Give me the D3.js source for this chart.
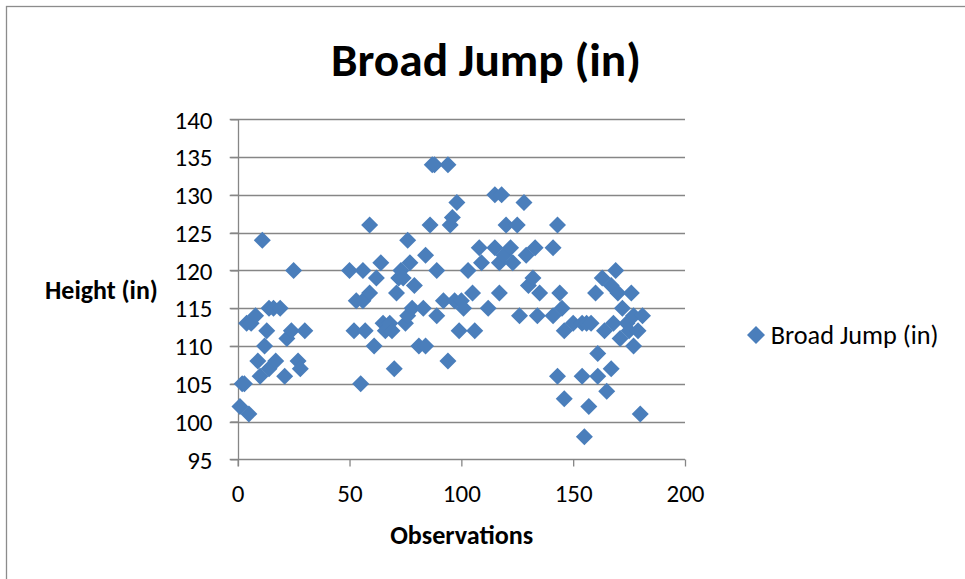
<!DOCTYPE html>
<html>
<head>
<meta charset="utf-8">
<script src="https://cdn.jsdelivr.net/npm/d3@7"></script>
<style>
  html, body { margin: 0; padding: 0; background: #fff; }
  svg { display: block; }
  text { font-family: Carlito, Calibri, Lato, "Open Sans", sans-serif; fill: #000; }
</style>
</head>
<body>
<svg id="chart" width="965" height="579"></svg>
<script>
// Observation number for each jump
const observations = [
  1, 2, 3, 5, 4, 6, 8, 9, 10, 11, 12, 13, 14, 14, 16, 17, 19, 21, 22, 24, 25, 27, 28, 30,
  50, 52, 53, 55, 56, 56, 57, 59, 59, 61, 62, 64, 65, 66, 68, 69, 70, 71, 72, 73, 75, 74,
  76, 76, 77, 78, 79, 81, 83, 84, 84, 86, 87, 88, 89, 89, 92, 94, 94, 95, 96, 98, 97, 99,
  100, 101, 103, 105, 106, 108, 109, 112, 115, 115, 117, 117, 118, 119, 120, 122, 123, 125,
  126, 128, 129, 130, 132, 133, 134, 135, 141, 141, 143, 143, 144, 145, 146, 146,
  150, 154, 154, 156, 155, 157, 158, 160, 161, 161, 163, 164, 165, 167, 167, 168, 169, 170,
  171, 172, 174, 175, 176, 177, 177, 179, 180, 181
];
// Broad jump distance (in) for each observation
const heights = [
  102, 105, 105, 101, 113, 113, 114, 108, 106, 124, 110, 112, 107, 115, 115, 108, 115, 106, 111, 112, 120, 108, 107, 112,
  120, 112, 116, 105, 120, 116, 112, 126, 117, 110, 119, 121, 113, 112, 113, 112, 107, 117, 119, 120, 113, 119,
  114, 124, 121, 115, 118, 110, 115, 110, 122, 126, 134, 134, 120, 114, 116, 134, 108, 126, 127, 129, 116, 112,
  116, 115, 120, 117, 112, 123, 121, 115, 130, 123, 117, 121, 130, 122, 126, 123, 121, 126,
  114, 129, 122, 118, 119, 123, 114, 117, 114, 123, 126, 106, 117, 115, 112, 103,
  113, 113, 106, 113, 98, 102, 113, 117, 106, 109, 119, 112, 104, 118, 107, 113, 120, 117,
  111, 115, 113, 112, 117, 114, 110, 112, 101, 114
];
const xTicks = [0, 50, 100, 150, 200];
const yTicks = [95, 100, 105, 110, 115, 120, 125, 130, 135, 140];
const seriesName = "Broad Jump (in)";
const chartTitle = "Broad Jump (in)";
const xTitle = "Observations";
const yTitle = "Height (in)";

const points = observations.map((o, i) => ({ x: o, y: heights[i] }));

const svg = d3.select("#chart");
const gridColor = "#868686";
const markColor = "#4a7ebb";

// chart frame
svg.append("rect")
  .attr("x", 6.5).attr("y", 6.5)
  .attr("width", 980).attr("height", 600)
  .attr("fill", "#fff").attr("stroke", "#8c8c8c").attr("stroke-width", 1.3);

const plot = { left: 237.7, right: 685, top: 119.3, bottom: 459.3 };
const x = d3.scaleLinear().domain([0, 200]).range([plot.left, plot.right]);
const y = d3.scaleLinear().domain([95, 140]).range([plot.bottom, plot.top]);

// fit a text element's font size to a given width
function fit(sel, width) {
  const node = sel.node();
  const w = node.getComputedTextLength();
  const fs = parseFloat(sel.attr("font-size"));
  sel.attr("font-size", fs * width / w);
  return fs * width / w;
}

// horizontal gridlines with left tick stubs
svg.append("g")
  .selectAll("line")
  .data(yTicks.slice(1))
  .join("line")
  .attr("x1", plot.left - 8).attr("x2", plot.right)
  .attr("y1", d => Math.round(y(d)) + 0.5).attr("y2", d => Math.round(y(d)) + 0.5)
  .attr("stroke", gridColor).attr("stroke-width", 1.3);

// x axis (bottom)
const xAxis = d3.axisBottom(x).tickValues(xTicks).tickSize(7).tickFormat(d3.format("d"));
const gx = svg.append("g")
  .attr("transform", `translate(0,${Math.round(plot.bottom) + 0.5})`)
  .call(xAxis);
gx.select(".domain").attr("d", `M${plot.left - 8},0H${plot.right}`).attr("stroke", gridColor).attr("stroke-width", 1.3);
gx.selectAll(".tick line").attr("stroke", gridColor).attr("stroke-width", 1.3);
gx.selectAll(".tick text").attr("fill", "#000").attr("y", 0).attr("dy", 0)
  .attr("transform", "translate(0,42)")
  .attr("font-family", null).attr("font-size", 22);

// y axis (left)
const yAxis = d3.axisLeft(y).tickValues(yTicks).tickSize(8).tickFormat(d3.format("d"));
const gy = svg.append("g")
  .attr("transform", `translate(${Math.round(plot.left) + 0.5},0)`)
  .call(yAxis);
gy.select(".domain").attr("d", `M0,${plot.top}V${plot.bottom + 7}`).attr("stroke", gridColor).attr("stroke-width", 1.3);
gy.selectAll(".tick line").attr("stroke", gridColor).attr("stroke-width", 1.3);
gy.selectAll(".tick text").attr("fill", "#000").attr("x", -26).attr("dy", "0.35em")
  .attr("font-family", null).attr("font-size", 22);

// size tick labels from the widest label
const yLab = gy.selectAll(".tick text").filter(d => d === 140);
const tickFs = fit(yLab, 38);
gy.selectAll(".tick text").attr("font-size", tickFs);
gx.selectAll(".tick text").attr("font-size", tickFs);

// markers
const r = 8.5;
const diamond = `M0,${-r}L${r},0L0,${r}L${-r},0Z`;
svg.append("g")
  .selectAll("path")
  .data(points)
  .join("path")
  .attr("d", diamond)
  .attr("transform", d => `translate(${x(d.x)},${y(d.y)})`)
  .attr("fill", markColor);

// titles
const t = svg.append("text")
  .attr("x", 486).attr("y", 76)
  .attr("text-anchor", "middle").attr("font-weight", "bold").attr("font-size", 44)
  .text(chartTitle);
fit(t, 310);

const xt = svg.append("text")
  .attr("x", 461.7).attr("y", 544)
  .attr("text-anchor", "middle").attr("font-weight", "bold").attr("font-size", 20)
  .text(xTitle);
fit(xt, 143);

const yt = svg.append("text")
  .attr("x", 45).attr("y", 299)
  .attr("font-weight", "bold").attr("font-size", 20)
  .text(yTitle);
fit(yt, 113);

// legend
const lg = svg.append("g").attr("transform", "translate(756,335)");
lg.append("path").attr("d", `M0,-9L9,0L0,9L-9,0Z`).attr("fill", markColor);
const lt = lg.append("text").attr("x", 14.7).attr("y", 9).attr("font-size", 21).text(seriesName);
fit(lt, 168);
</script>
</body>
</html>
